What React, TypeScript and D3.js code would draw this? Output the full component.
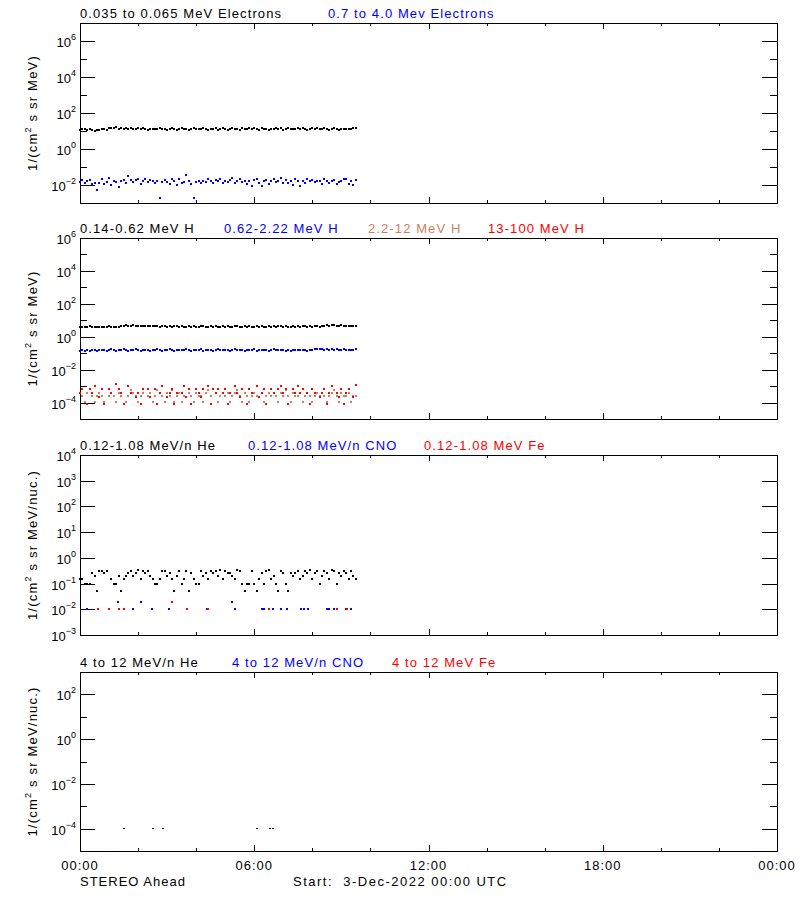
import React from 'react';
import * as d3 from 'd3';

// ---------- DATA ----------
const hourTicks = [0, 6, 12, 18, 24];
const hourTickLabels = ['00:00', '06:00', '12:00', '18:00', '00:00'];
const minorHourTicks = [2, 4, 8, 10, 14, 16, 20, 22];
const stepMinutes = 5;

// log10 values, 5-minute samples from 00:00
const elecLowLog = [
  1.08,1.13,1.10,1.03,1.09,1.06,1.02,1.08,1.05,1.11,
  1.13,1.08,1.15,1.19,1.14,1.21,1.12,1.17,1.09,1.14,
  1.11,1.16,1.12,1.09,1.14,1.11,1.15,1.12,1.08,1.13,
  1.10,1.13,1.11,1.15,1.12,1.09,1.07,1.11,1.14,1.12,
  1.08,1.11,1.15,1.10,1.13,1.07,1.13,1.18,1.11,1.09,
  1.12,1.16,1.10,1.04,1.12,1.09,1.14,1.07,1.11,1.15,
  1.12,1.08,1.11,1.14,1.10,1.13,1.07,1.16,1.10,1.12,
  1.14,1.10,1.17,1.11,1.08,1.15,1.12,1.09,1.06,1.12,
  1.10,1.14,1.11,1.16,1.08,1.12,1.15,1.10,1.13,1.11,
  1.14,1.09,1.15,1.12,1.08,1.11,1.14,1.10,1.16,1.12,
  1.09,1.14,1.11,1.08,1.12,1.15,1.10,1.07,1.12,1.11,
  1.13,1.09,1.12,1.15,1.17,
];
const elecHighLog = [
  -1.82,-1.74,-1.88,-1.80,-1.70,-1.96,-1.90,-2.30,-1.88,-1.68,
  -1.96,-1.86,-1.62,-2.00,-1.80,-1.84,-2.12,-1.76,-1.70,-1.88,
  -1.52,-1.70,-1.84,-1.74,-1.64,-1.92,-1.76,-1.66,-1.84,-1.72,
  -1.80,-1.90,-1.76,-2.70,-1.86,-1.72,-1.84,-1.94,-1.68,-1.80,
  -1.98,-1.64,-1.90,-1.86,-1.46,-1.80,-1.96,-2.70,-1.85,-1.78,
  -1.90,-1.76,-1.84,-1.68,-1.80,-1.90,-1.72,-1.80,-1.64,-1.88,
  -1.76,-1.84,-1.72,-1.62,-1.90,-1.80,-1.68,-1.84,-1.76,-1.94,
  -1.80,-2.04,-1.72,-1.66,-1.88,-2.08,-1.80,-1.72,-1.92,-1.80,
  -1.68,-1.84,-1.76,-1.62,-1.90,-1.72,-1.88,-1.76,-2.00,-1.64,
  -1.80,-2.04,-1.76,-1.88,-1.68,-1.80,-1.72,-1.84,-1.76,-1.80,
  -1.92,-1.66,-1.80,-1.88,-1.76,-1.72,-1.94,-1.84,-1.80,-1.68,
  -1.64,-1.92,-1.76,-2.00,-1.72,
];
const protonLog1 = [
  0.60,0.62,0.58,0.61,0.63,0.59,0.62,0.60,0.61,0.58,
  0.62,0.60,0.63,0.61,0.59,0.62,0.60,0.63,0.66,0.70,
  0.68,0.66,0.69,0.67,0.65,0.68,0.66,0.64,0.67,0.65,
  0.63,0.66,0.64,0.62,0.65,0.63,0.61,0.64,0.62,0.66,
  0.63,0.61,0.64,0.62,0.60,0.63,0.61,0.64,0.62,0.60,
  0.63,0.65,0.62,0.60,0.63,0.61,0.64,0.62,0.60,0.63,
  0.61,0.64,0.62,0.60,0.63,0.65,0.62,0.60,0.63,0.61,
  0.64,0.62,0.60,0.63,0.61,0.64,0.62,0.60,0.63,0.61,
  0.64,0.62,0.65,0.63,0.61,0.64,0.62,0.60,0.63,0.61,
  0.64,0.62,0.65,0.63,0.61,0.64,0.62,0.66,0.64,0.62,
  0.65,0.68,0.70,0.67,0.69,0.71,0.68,0.66,0.69,0.67,
  0.65,0.67,0.66,0.64,0.66,
];
const protonLog2 = [
  -0.85,-0.82,-0.86,-0.80,-0.84,-0.78,-0.82,-0.86,-0.80,-0.83,
  -0.78,-0.84,-0.80,-0.76,-0.82,-0.86,-0.79,-0.83,-0.77,-0.81,
  -0.84,-0.78,-0.82,-0.75,-0.80,-0.84,-0.78,-0.82,-0.80,-0.86,
  -0.79,-0.83,-0.77,-0.81,-0.85,-0.78,-0.82,-0.76,-0.80,-0.84,
  -0.78,-0.82,-0.79,-0.83,-0.77,-0.81,-0.85,-0.78,-0.82,-0.80,
  -0.76,-0.84,-0.79,-0.82,-0.78,-0.85,-0.80,-0.77,-0.83,-0.79,
  -0.82,-0.78,-0.84,-0.80,-0.76,-0.83,-0.79,-0.81,-0.85,-0.78,
  -0.82,-0.80,-0.77,-0.84,-0.79,-0.83,-0.78,-0.81,-0.86,-0.80,
  -0.77,-0.83,-0.79,-0.82,-0.78,-0.84,-0.80,-0.86,-0.82,-0.79,
  -0.83,-0.78,-0.82,-0.80,-0.84,-0.79,-0.81,-0.77,-0.73,-0.76,
  -0.74,-0.78,-0.75,-0.79,-0.76,-0.80,-0.77,-0.82,-0.78,-0.76,
  -0.80,-0.78,-0.82,-0.79,-0.72,
];
const protonLog3 = [
  -3.45,-3.62,-3.95,-3.45,null,-3.62,-3.95,-3.62,-3.45,-3.62,
  -3.95,null,-3.62,-3.45,-3.62,-3.95,-3.45,-3.62,null,-3.95,
  -3.62,-3.25,-3.45,-3.62,-3.95,-3.62,-3.45,null,-3.62,-3.45,
  -3.95,-3.62,-3.25,-3.45,-3.62,-3.95,-3.45,-3.62,-3.25,-3.95,
  -3.62,-3.45,-3.95,-3.62,null,-3.45,-3.62,-3.95,-3.45,-3.62,
  -3.62,-3.95,-3.45,-3.25,-3.62,null,-3.45,-3.95,-3.62,-3.45,
  -3.62,-3.45,-3.95,-3.62,-3.45,-3.25,-3.62,-3.95,-3.45,-3.62,
  -3.95,-3.62,-3.45,-3.62,null,-3.45,-3.95,-3.62,-3.45,-3.62,
  -3.45,-3.62,-3.95,-3.45,-3.62,-3.25,-3.62,-3.95,-3.45,-3.62,
  -3.62,-3.45,-3.95,-3.62,-3.45,-3.62,-3.95,-3.62,-3.45,-3.62,
  -3.45,-3.62,-3.95,-3.62,-3.45,-3.25,-3.62,-3.95,-3.45,-3.62,
  -3.62,-3.45,-3.95,-3.62,-3.62,
];
const protonLog4 = [
  -3.45,-3.2,null,-4.1,-3.2,-3.45,-3.0,null,-3.65,-3.2,
  -4.1,null,-3.2,-3.45,null,-2.9,-3.2,-3.45,-4.1,null,
  -3.0,-3.45,null,-3.65,-3.45,-4.1,-3.2,null,-3.2,-3.65,
  null,-3.2,-4.1,-3.45,-3.0,null,-3.65,-3.45,-3.2,-4.1,
  -3.45,null,-3.45,-3.0,-3.65,-3.2,-4.1,null,-3.2,-3.45,
  -3.65,-3.2,null,-3.0,-4.1,-3.2,-3.45,-3.2,null,-3.45,
  -3.2,-4.1,-3.45,null,-3.0,-3.45,-3.65,-3.2,null,-4.1,
  -3.2,-3.45,null,-3.0,-3.65,-3.45,-3.2,-4.1,null,-3.2,
  -3.45,null,-3.2,-3.0,-3.45,-3.2,-4.1,null,-3.2,-3.45,
  -3.0,-3.45,-3.2,null,-3.45,-4.1,-3.2,-3.45,null,-3.65,
  -3.45,-3.2,-4.1,-3.45,-3.0,null,-3.45,-3.65,-3.2,-4.1,
  -3.45,-3.2,null,-3.65,-2.95,
];
const heLowValues = [
  0.15,0.15,0.10,0.10,0.10,0.25,0.20,0.05,0.30,0.30,
  0.25,0.30,null,0.15,0.10,0.10,0.20,0.05,0.15,0.20,
  0.25,0.30,0.20,0.25,0.35,0.15,0.30,0.25,0.30,0.20,
  0.15,0.10,0.10,0.15,0.30,0.30,0.20,0.25,0.15,0.05,
  0.20,0.30,0.10,0.15,0.30,0.05,0.25,0.15,0.10,0.10,
  0.30,0.20,0.25,0.15,0.30,0.25,0.30,0.20,0.35,0.15,
  0.30,0.25,0.25,0.20,0.15,0.35,0.30,0.10,0.05,0.10,
  0.10,0.30,0.10,0.05,0.15,0.25,0.10,0.30,0.35,0.15,
  0.20,0.10,0.05,0.30,0.25,0.10,0.05,0.25,0.20,0.25,
  0.30,0.15,0.20,0.30,0.25,0.35,0.15,0.25,0.30,0.10,
  0.20,0.30,0.25,0.15,0.35,0.30,0.10,0.25,0.20,0.30,
  0.25,0.15,0.30,0.20,0.15,
];
const cnoLowHours = [0.24,1.31,1.83,2.10,2.48,3.06,4.37,5.23,5.34,6.27,6.34,6.51,6.65,6.92,7.13,7.61,7.71,7.85,8.51,8.57,8.75,9.16,9.33];
const cnoLowValues = [0.01,0.02,0.01,0.02,0.01,0.01,0.01,0.02,0.01,0.01,0.01,0.01,0.01,0.01,0.01,0.01,0.01,0.01,0.01,0.01,0.01,0.01,0.01];
const feLowHours = [0.62,1.00,1.34,1.52,3.17,3.68,4.41,6.51,8.85,9.19];
const feLowValues = [0.01,0.01,0.01,0.01,0.02,0.01,0.01,0.01,0.01,0.01];
const heHighHours = [1.51,2.51,2.86,6.09,6.55,6.63];
const heHighValues = [1e-4,1e-4,1e-4,1e-4,1e-4,1e-4];

// ---------- LAYOUT ----------
const X0 = 80, X1 = 777;
const xScale = d3.scaleLinear().domain([0, 24]).range([X0, X1]);
const FONT = '"Liberation Sans", Arial, sans-serif';
const BLUE = '#0000ff', RED = '#ff0000', SIENNA = '#cd7f62', BLACK = '#000000';

type Pt = { t: number; v: number };
const fromLog = (arr: (number | null)[]): Pt[] =>
  arr.flatMap((v, i) => (v == null ? [] : [{ t: (i * stepMinutes) / 60, v: Math.pow(10, v) }]));
const fromLin = (arr: (number | null)[]): Pt[] =>
  arr.flatMap((v, i) => (v == null ? [] : [{ t: (i * stepMinutes) / 60, v }]));
const fromPairs = (h: number[], v: number[]): Pt[] => h.map((t, i) => ({ t, v: v[i] }));

type Series = { color: string; pts: Pt[]; w?: number; h?: number };
type PanelDef = {
  top: number; bottom: number; lo: number; hi: number;
  major: number[]; minor: number[];
  titles: { text: string; color: string; x: number }[];
  ylabel: string; series: Series[];
};

const panels: PanelDef[] = [
  {
    top: 23, bottom: 203, lo: -3, hi: 7, major: [6, 4, 2, 0, -2], minor: [5, 3, 1, -1],
    titles: [
      { text: '0.035 to 0.065 MeV Electrons', color: BLACK, x: 80 },
      { text: '0.7 to 4.0 Mev Electrons', color: BLUE, x: 328 },
    ],
    ylabel: 'MeV)',
    series: [
      { color: BLACK, pts: fromLog(elecLowLog) },
      { color: BLUE, pts: fromLog(elecHighLog) },
    ],
  },
  {
    top: 238, bottom: 419, lo: -5, hi: 6, major: [6, 4, 2, 0, -2, -4], minor: [5, 3, 1, -1, -3],
    titles: [
      { text: '0.14-0.62 MeV H', color: BLACK, x: 80 },
      { text: '0.62-2.22 MeV H', color: BLUE, x: 224 },
      { text: '2.2-12 MeV H', color: SIENNA, x: 368 },
      { text: '13-100 MeV H', color: RED, x: 488 },
    ],
    ylabel: 'MeV)',
    series: [
      { color: BLACK, pts: fromLog(protonLog1) },
      { color: BLUE, pts: fromLog(protonLog2) },
      { color: SIENNA, pts: fromLog(protonLog3) },
      { color: RED, pts: fromLog(protonLog4) },
    ],
  },
  {
    top: 455, bottom: 635, lo: -3, hi: 4, major: [4, 3, 2, 1, 0, -1, -2, -3], minor: [],
    titles: [
      { text: '0.12-1.08 MeV/n He', color: BLACK, x: 80 },
      { text: '0.12-1.08 MeV/n CNO', color: BLUE, x: 248 },
      { text: '0.12-1.08 MeV Fe', color: RED, x: 424 },
    ],
    ylabel: 'MeV/nuc.)',
    series: [
      { color: BLACK, pts: fromLin(heLowValues) },
      { color: BLUE, pts: fromPairs(cnoLowHours, cnoLowValues) },
      { color: RED, pts: fromPairs(feLowHours, feLowValues) },
    ],
  },
  {
    top: 672, bottom: 851, lo: -5, hi: 3, major: [2, 0, -2, -4], minor: [1, -1, -3],
    titles: [
      { text: '4 to 12 MeV/n He', color: BLACK, x: 80 },
      { text: '4 to 12 MeV/n CNO', color: BLUE, x: 232 },
      { text: '4 to 12 MeV Fe', color: RED, x: 392 },
    ],
    ylabel: 'MeV/nuc.)',
    series: [{ color: BLACK, pts: fromPairs(heHighHours, heHighValues), w: 2, h: 1 }],
  },
];

const expText = (e: number) => (e < 0 ? '\u2212' + Math.abs(e) : String(e));

function Panel({ p, last }: { p: PanelDef; last: boolean }) {
  const y = d3.scaleLog().domain([Math.pow(10, p.lo), Math.pow(10, p.hi)]).range([p.bottom, p.top]);
  const mid = (p.top + p.bottom) / 2;
  return (
    <g>
      {p.titles.map((t, i) => (
        <text key={i} x={t.x} y={p.top - 5} fill={t.color} fontSize={13} letterSpacing={1.1}>{t.text}</text>
      ))}
      <rect x={X0 + 0.5} y={p.top + 0.5} width={X1 - X0} height={p.bottom - p.top} fill="none" stroke="#000" strokeWidth={1} shapeRendering="crispEdges" />
      {p.major.map((e) => {
        const yy = Math.round(y(Math.pow(10, e))) + 0.5;
        return (
          <g key={'M' + e}>
            <line x1={X0} x2={X0 + 15} y1={yy} y2={yy} stroke="#000" shapeRendering="crispEdges" />
            <line x1={X1} x2={X1 - 15} y1={yy} y2={yy} stroke="#000" shapeRendering="crispEdges" />
            <text x={76} y={yy + 5} textAnchor="end" fontSize={13}>
              10<tspan dy={-7} fontSize={9}>{expText(e)}</tspan>
            </text>
          </g>
        );
      })}
      {p.minor.map((e) => {
        const yy = Math.round(y(Math.pow(10, e))) + 0.5;
        return (
          <g key={'m' + e}>
            <line x1={X0} x2={X0 + 7} y1={yy} y2={yy} stroke="#000" shapeRendering="crispEdges" />
            <line x1={X1} x2={X1 - 7} y1={yy} y2={yy} stroke="#000" shapeRendering="crispEdges" />
          </g>
        );
      })}
      {hourTicks.map((h) => {
        const xx = Math.round(xScale(h)) + 0.5;
        return (
          <g key={'X' + h}>
            <line x1={xx} x2={xx} y1={p.bottom} y2={p.bottom - 6} stroke="#000" shapeRendering="crispEdges" />
            <line x1={xx} x2={xx} y1={p.top} y2={p.top + 6} stroke="#000" shapeRendering="crispEdges" />
          </g>
        );
      })}
      {minorHourTicks.map((h) => {
        const xx = Math.round(xScale(h)) + 0.5;
        return (
          <g key={'x' + h}>
            <line x1={xx} x2={xx} y1={p.bottom} y2={p.bottom - 3} stroke="#000" shapeRendering="crispEdges" />
            <line x1={xx} x2={xx} y1={p.top} y2={p.top + 3} stroke="#000" shapeRendering="crispEdges" />
          </g>
        );
      })}
      <text transform={`translate(37,${mid}) rotate(-90)`} textAnchor="middle" fontSize={13} letterSpacing={1.2}>
        1/(cm<tspan dy={-6} fontSize={9}>2</tspan><tspan dy={6}> s sr {p.ylabel}</tspan>
      </text>
      {p.series.map((s, si) => (
        <g key={'s' + si} fill={s.color}>
          {s.pts.map((d, i) => {
            const w = s.w ?? 2, hgt = s.h ?? 2;
            return (
              <rect key={i} x={Math.round(xScale(d.t)) - 1} y={Math.round(y(d.v)) - 1} width={w} height={hgt} shapeRendering="crispEdges" />
            );
          })}
        </g>
      ))}
      {last &&
        hourTicks.map((h, i) => (
          <text key={'L' + i} x={xScale(h)} y={p.bottom + 19} textAnchor="middle" fontSize={13} letterSpacing={1}>
            {hourTickLabels[i]}
          </text>
        ))}
    </g>
  );
}

export default function App() {
  return (
    <svg width={800} height={900} style={{ display: 'block', position: 'absolute', left: 0, top: 0, background: '#fff' }} fontFamily={FONT}>
      <rect x={0} y={0} width={800} height={900} fill="#fff" />
      {panels.map((p, i) => (
        <Panel key={i} p={p} last={i === panels.length - 1} />
      ))}
      <text x={80} y={886} fontSize={13} letterSpacing={1}>STEREO Ahead</text>
      <text x={293} y={886} fontSize={13} letterSpacing={1.5} style={{ whiteSpace: 'pre' }}>{'Start:  3-Dec-2022 00:00 UTC'}</text>
    </svg>
  );
}
